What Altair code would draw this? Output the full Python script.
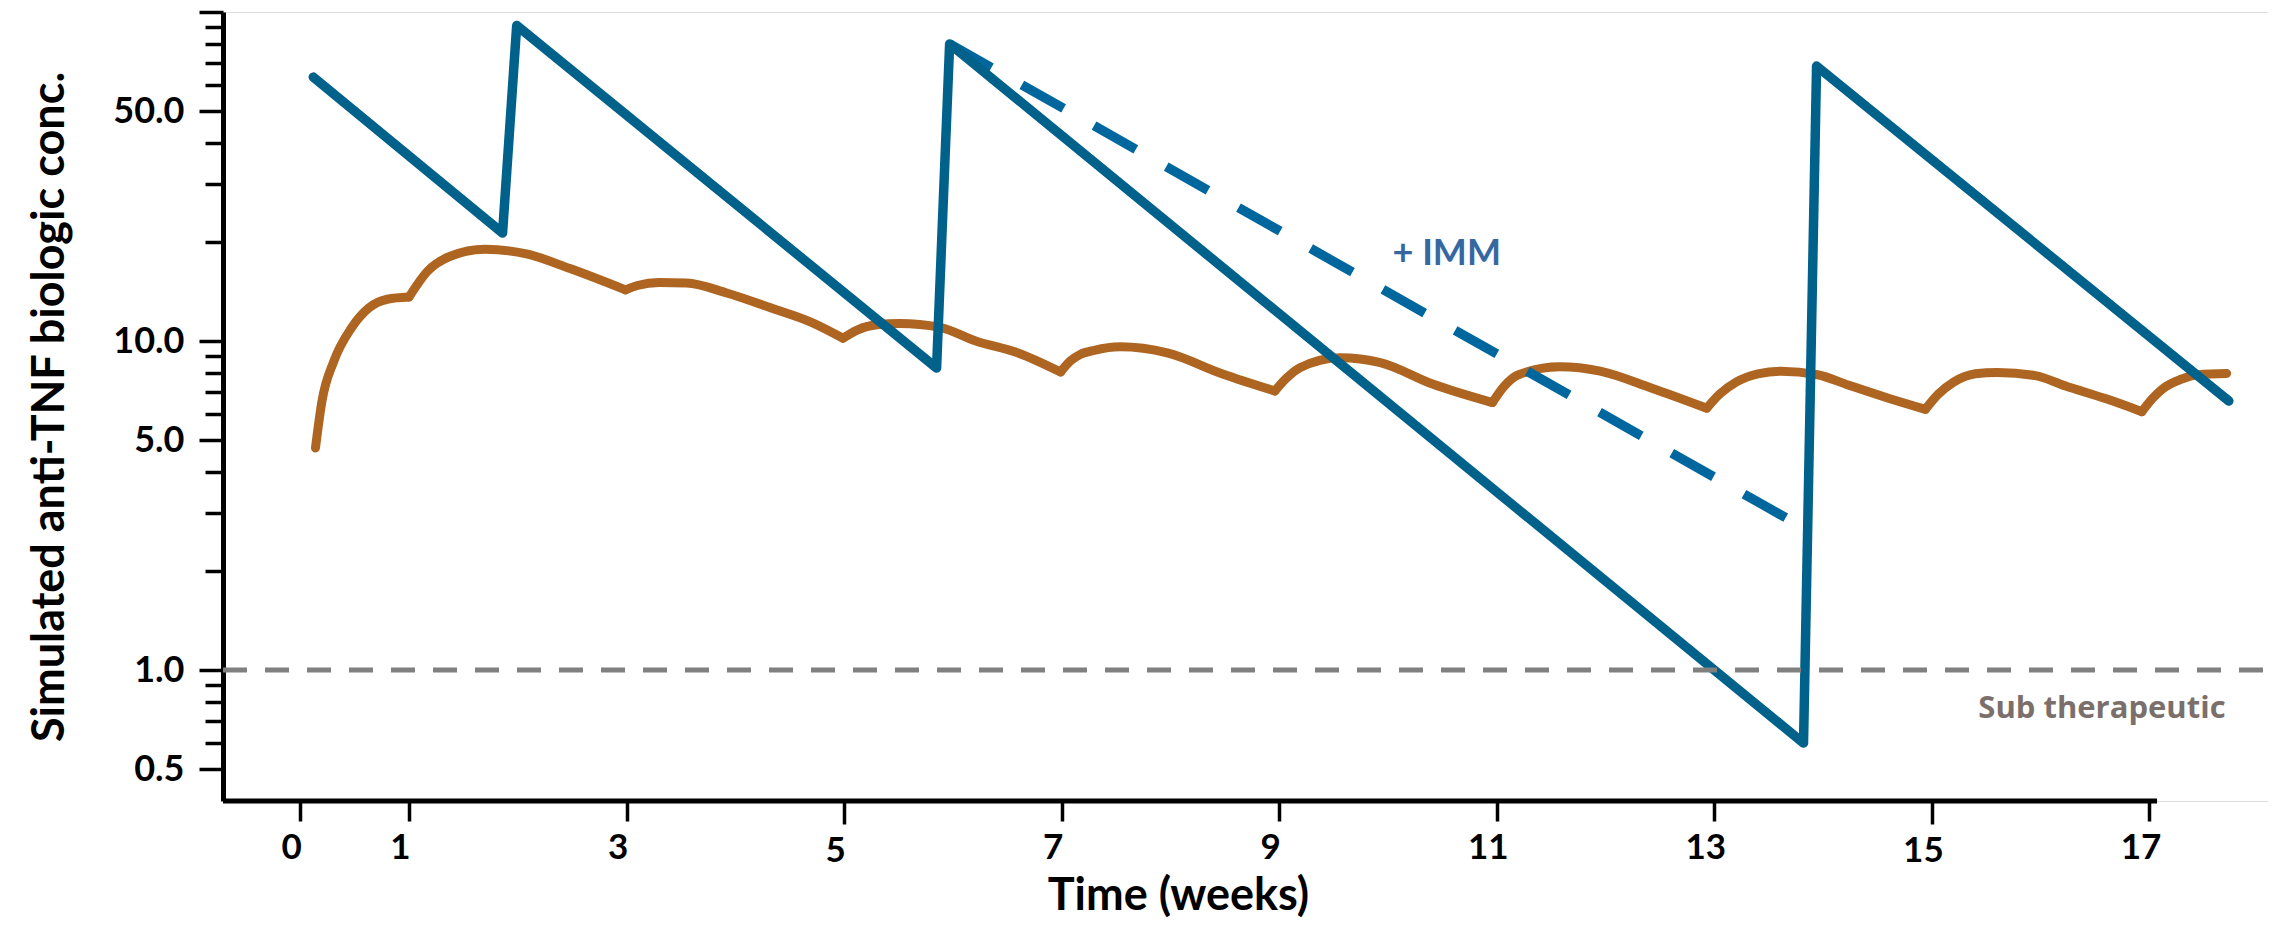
import altair as alt
import pandas as pd

# ---------------- data ----------------
X_MIN, X_MAX = -0.71, 18.09          # x scale domain (weeks)
X_AXIS_END = 17.07                   # where the drawn x-axis line stops
Y_MIN, Y_MAX = 0.4, 100.0            # log y domain

x_tick_values = [0, 1, 3, 5, 7, 9, 11, 13, 15, 17]
y_tick_values = [0.5, 0.6, 0.7, 0.8, 0.9, 1, 2, 3, 4, 5, 6, 7, 8, 9,
                 10, 20, 30, 40, 50, 60, 70, 80, 90, 100]
y_labelled = [0.5, 1, 5, 10, 50]

# blue solid line (no immunomodulator)
blue_t = [0.12, 1.86, 1.99, 5.85, 5.97, 13.82, 13.94, 17.73]
blue_v = [63.4, 21.3, 91.0, 8.28, 80.0, 0.60, 68.5, 6.57]

# blue dashed line (+ IMM)
imm_t = [5.97, 13.75]
imm_v = [80.0, 2.79]

# orange line, one segment per dosing interval
orange_seg = ([0] * 7 + [1] * 7 + [2] * 8 + [3] * 8 + [4] * 8 + [5] * 7
              + [6] * 7 + [7] * 9 + [8] * 9 + [9] * 6)
orange_t = [0.14, 0.20, 0.31, 0.47, 0.63, 0.80, 1.00,
            1.00, 1.17, 1.38, 1.70, 2.08, 2.48, 2.99,
            2.99, 3.10, 3.30, 3.55, 3.92, 4.33, 4.70, 4.99,
            4.99, 5.12, 5.30, 5.51, 5.88, 6.21, 6.60, 6.99,
            6.99, 7.08, 7.17, 7.30, 7.54, 7.97, 8.48, 8.96,
            8.96, 9.07, 9.19, 9.56, 9.93, 10.41, 10.96,
            10.96, 11.07, 11.20, 11.58, 11.95, 12.42, 12.93,
            12.93, 13.05, 13.20, 13.40, 13.61, 13.95, 14.23, 14.60, 14.94,
            14.94, 15.06, 15.20, 15.40, 15.60, 15.95, 16.23, 16.61, 16.93,
            16.93, 17.03, 17.12, 17.29, 17.45, 17.71]
orange_v = [4.73, 6.57, 8.7, 10.95, 12.6, 13.4, 13.6,
            13.6, 16.3, 18.1, 19.0, 18.4, 16.6, 14.3,
            14.3, 14.75, 15.05, 15.0, 14.0, 12.6, 11.4, 10.2,
            10.2, 10.8, 11.2, 11.3, 11.0, 10.0, 9.2, 8.05,
            8.05, 8.7, 9.1, 9.37, 9.6, 9.2, 7.94, 7.05,
            7.05, 7.73, 8.3, 8.9, 8.6, 7.4, 6.5,
            6.5, 7.3, 7.9, 8.35, 8.1, 7.2, 6.25,
            6.25, 6.9, 7.5, 7.95, 8.1, 7.9, 7.35, 6.7, 6.2,
            6.2, 6.9, 7.5, 7.95, 8.03, 7.85, 7.3, 6.66, 6.1,
            6.1, 6.7, 7.15, 7.65, 7.9, 7.97]

# sub-therapeutic threshold
ref_t = [X_MIN, X_MAX]
ref_v = [1.0, 1.0]

# annotations
imm_label = ["+ IMM"]
imm_label_t = [10.54]
imm_label_v = [18.4]
sub_label = ["Sub therapeutic"]
sub_label_t = [17.70]
sub_label_v = [0.715]

# ---------------- tables ----------------
blue_df = pd.DataFrame({"t": blue_t, "v": blue_v})
imm_df = pd.DataFrame({"t": imm_t, "v": imm_v})
orange_df = pd.DataFrame({"t": orange_t, "v": orange_v, "seg": orange_seg})
ref_df = pd.DataFrame({"t": ref_t, "v": ref_v})
imm_lab_df = pd.DataFrame({"t": imm_label_t, "v": imm_label_v, "label": imm_label})
sub_lab_df = pd.DataFrame({"t": sub_label_t, "v": sub_label_v, "label": sub_label})
xaxis_df = pd.DataFrame({"t": [X_MIN], "t2": [X_AXIS_END], "v": [Y_MIN]})

FONT = "Lato"

x_axis = alt.Axis(
    values=x_tick_values, domain=False, grid=False,
    tickColor="black", tickWidth=3.5,
    tickSize={"condition": {"test": "datum.value == 5 || datum.value == 15", "value": 23}, "value": 20},
    labelFont=FONT, labelFontWeight="bold", labelFontSize=35, labelColor="black",
    labelPadding=9, labelOffset=-9,
    title="Time (weeks)", titleFont=FONT, titleFontWeight="bold", titleFontSize=45,
    titleColor="black", titlePadding=5, titleX=955,
)
y_axis = alt.Axis(
    values=y_tick_values, grid=False,
    domain=True, domainColor="black", domainWidth=5,
    tickColor="black", tickWidth=3.5,
    tickSize={"condition": {"test": "indexof([0.5, 1, 5, 10, 50, 100], datum.value) >= 0", "value": 24}, "value": 18},
    labelExpr="indexof([0.5, 1, 5, 10, 50], datum.value) >= 0 ? format(datum.value, '.1f') : ''",
    labelFont=FONT, labelFontWeight="bold", labelFontSize=36, labelColor="black",
    labelPadding=15,
    title="Simulated anti-TNF biologic conc.", titleFont=FONT, titleFontWeight="bold",
    titleFontSize=45, titleColor="black", titlePadding=40,
)

x_scale = alt.Scale(domain=[X_MIN, X_MAX], nice=False, zero=False)
y_scale = alt.Scale(type="log", domain=[Y_MIN, Y_MAX], nice=False)

x_enc = alt.X("t:Q", scale=x_scale, axis=x_axis)
y_enc = alt.Y("v:Q", scale=y_scale, axis=y_axis)

orange = alt.Chart(orange_df).mark_line(
    color="#ae6521", strokeWidth=9, interpolate="monotone",
    strokeCap="round", strokeJoin="round",
).encode(x=x_enc, y=y_enc, detail="seg:N")

dashed = alt.Chart(imm_df).mark_line(
    color="#00679e", strokeWidth=9.5, strokeDash=[48, 35], strokeCap="butt",
).encode(x=x_enc, y=y_enc)

solid = alt.Chart(blue_df).mark_line(
    color="#00618b", strokeWidth=9.5, strokeJoin="round", strokeCap="round",
).encode(x=x_enc, y=y_enc)

ref = alt.Chart(ref_df).mark_line(
    color="#808080", strokeWidth=5, strokeDash=[24, 18],
).encode(x=x_enc, y=y_enc)

imm_text = alt.Chart(imm_lab_df).mark_text(
    font=FONT, fontWeight="bold", fontSize=36, color="#3568a0",
    align="center", baseline="middle",
).encode(x=x_enc, y=y_enc, text="label:N")

sub_text = alt.Chart(sub_lab_df).mark_text(
    font="Open Sans", fontWeight="bold", fontSize=31, color="#7b6f6b",
    align="right", baseline="alphabetic",
).encode(x=x_enc, y=y_enc, text="label:N")

xline = alt.Chart(xaxis_df).mark_rule(color="black", strokeWidth=5).encode(
    x=x_enc, x2="t2:Q", y=y_enc
)

chart = alt.layer(orange, dashed, solid, ref, imm_text, sub_text, xline).properties(
    width=2045, height=789,
    autosize=alt.AutoSizeParams(type="none"),
    padding={"left": 215, "top": 4, "right": 0, "bottom": 121},
).configure_view(stroke=None).configure(background="white")

chart.save("out.html", embed_options={"renderer": "svg", "actions": False})
